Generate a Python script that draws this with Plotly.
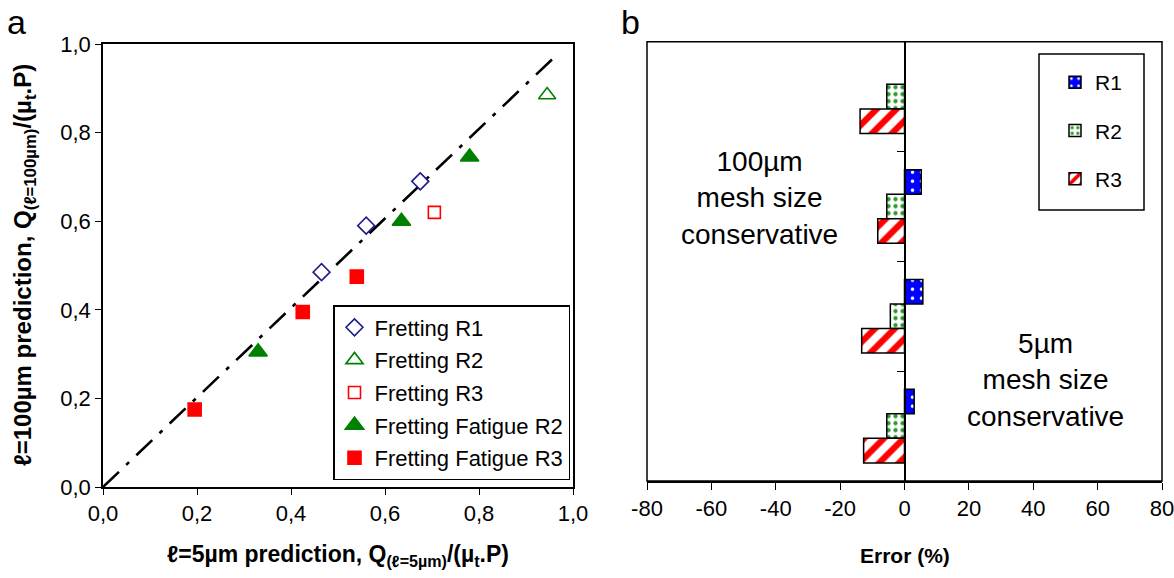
import plotly.graph_objects as go

# ---------------- data: panel a ----------------
fr_r1_x = [0.465, 0.560, 0.675]
fr_r1_y = [0.485, 0.590, 0.690]
fr_r2_x = [0.945]
fr_r2_y = [0.885]
fr_r3_x = [0.705]
fr_r3_y = [0.620]
ff_r2_x = [0.330, 0.635, 0.780]
ff_r2_y = [0.305, 0.600, 0.745]
ff_r3_x = [0.195, 0.425, 0.540]
ff_r3_y = [0.175, 0.395, 0.475]
trend_x = [0.0, 0.97]
trend_y = [0.0, 0.98]
ticks_a = [0.0, 0.2, 0.4, 0.6, 0.8, 1.0]

# ---------------- data: panel b ----------------
cases = [1, 2, 3, 4]
err_r1 = [None, 5.2, 5.7, 3.0]
err_r2 = [-5.5, -5.5, -4.4, -5.5]
err_r3 = [-13.8, -8.3, -13.3, -12.7]
x_ticks_b = [-80, -60, -40, -20, 0, 20, 40, 60, 80]

FONT = "Liberation Sans, Arial, sans-serif"
W, H = 1174, 578


def px(x):
    return x / W


def py(y):
    return 1 - y / H


fig = go.Figure()


def sc(name, x, y, symbol, color, filled, size):
    fig.add_trace(go.Scatter(
        x=x, y=y, mode="markers", name=name, xaxis="x", yaxis="y",
        legendgroup=name,
        marker=dict(symbol=symbol, size=size,
                    color=color if filled else "white",
                    line=dict(color=color, width=1.6)),
    ))


fig.add_trace(go.Scatter(x=trend_x, y=trend_y, mode="lines", showlegend=False,
                         xaxis="x", yaxis="y",
                         line=dict(color="black", width=2.6, dash="22px,10px,4px,10px")))
sc("Fretting R1", fr_r1_x, fr_r1_y, "diamond", "#1c1c8c", False, 13)
sc("Fretting R2", fr_r2_x, fr_r2_y, "triangle-up", "#008000", False, 15)
sc("Fretting R3", fr_r3_x, fr_r3_y, "square", "#ff0000", False, 12)
sc("Fretting Fatigue R2", ff_r2_x, ff_r2_y, "triangle-up", "#008000", True, 16)
sc("Fretting Fatigue R3", ff_r3_x, ff_r3_y, "square", "#ff0000", True, 13)


def bar(name, vals, fg, bg, shape, size, solid):
    fig.add_trace(go.Bar(
        x=vals, y=cases, orientation="h", name=name, xaxis="x2", yaxis="y2",
        legend="legend2", legendgroup=name,
        marker=dict(color=bg, line=dict(color="black", width=1.5),
                    pattern=dict(shape=shape, fgcolor=fg, bgcolor=bg,
                                 size=size, solidity=solid, fillmode="replace")),
    ))


bar("R1", err_r1, "white", "#0000ff", ".", 9, 0.12)
bar("R2", err_r2, "#2e9a2e", "white", ".", 7, 0.3)
bar("R3", err_r3, "#ff0000", "white", "/", 14, 0.45)

# domains
xa = [px(103), px(573)]
ya = [py(487), py(44)]
xb = [px(647), px(1162)]
yb = [py(481), py(41.7)]

tickfont = dict(family=FONT, size=22, color="black")

fig.update_layout(
    width=W, height=H,
    margin=dict(l=0, r=0, t=0, b=0, autoexpand=False),
    paper_bgcolor="white", plot_bgcolor="white",
    separators=", ",
    font=dict(family=FONT, color="black"),
    barmode="group", bargap=0.33, bargroupgap=0,
    xaxis=dict(domain=xa, range=[0, 1], tickvals=ticks_a,
               tickformat=".1f", ticks="outside", ticklen=6, tickcolor="black",
               showline=True, linecolor="black", linewidth=1.5, mirror=True,
               showgrid=False, zeroline=False, tickfont=tickfont, anchor="y",
               automargin=False, ticklabeloverflow="allow"),
    yaxis=dict(domain=ya, range=[0, 1], tickvals=ticks_a,
               tickformat=".1f", ticks="outside", ticklen=6, tickcolor="black",
               showline=True, linecolor="black", linewidth=1.5, mirror=True,
               showgrid=False, zeroline=False, tickfont=tickfont, anchor="x",
               automargin=False, ticklabeloverflow="allow"),
    xaxis2=dict(domain=xb, range=[-80, 80], tickvals=x_ticks_b,
                ticktext=[str(v) for v in x_ticks_b],
                ticks="outside", ticklen=7, tickcolor="black",
                showline=True, linecolor="black", linewidth=1.5,
                showgrid=False, zeroline=False, tickfont=tickfont, anchor="y2",
                automargin=False, ticklabeloverflow="allow"),
    yaxis2=dict(domain=yb, range=[4.5, 0.5], tickvals=[1.5, 2.5, 3.5],
                showticklabels=False, ticks="outside", ticklen=7, tickcolor="black",
                showline=True, linecolor="black", linewidth=1.5,
                showgrid=False, zeroline=False, anchor="free",
                position=px(647 + 0.5 * (1162 - 647)), automargin=False),
    legend=dict(x=px(333), y=py(305), xanchor="left", yanchor="top",
                bgcolor="white", bordercolor="black", borderwidth=1.5,
                font=dict(family=FONT, size=22, color="black"),
                traceorder="grouped", tracegroupgap=1,
                itemwidth=30),
    legend2=dict(x=px(1055), y=py(62), xanchor="left", yanchor="top",
                 bgcolor="rgba(0,0,0,0)", borderwidth=0,
                 font=dict(family=FONT, size=21, color="black"),
                 traceorder="grouped", tracegroupgap=18, itemwidth=30),
    shapes=[
        dict(type="rect", xref="x2 domain", yref="y2 domain", x0=0, x1=1, y0=0, y1=1,
             line=dict(color="black", width=1.5), fillcolor="rgba(0,0,0,0)"),
        dict(type="rect", xref="paper", yref="paper",
             x0=px(1039), x1=px(1144), y0=py(210), y1=py(54),
             line=dict(color="black", width=1.5), fillcolor="rgba(0,0,0,0)"),
    ],
    annotations=[
        dict(text="a", x=px(16), y=py(22), xref="paper", yref="paper",
             showarrow=False, font=dict(family=FONT, size=34), xanchor="center", yanchor="middle"),
        dict(text="b", x=px(630), y=py(22), xref="paper", yref="paper",
             showarrow=False, font=dict(family=FONT, size=34), xanchor="center", yanchor="middle"),
        dict(text="<b>ℓ=5µm prediction, Q<sub>(ℓ=5µm)</sub>/(µ<sub>t</sub>.P)</b>",
             x=px(338), y=py(555), xref="paper", yref="paper", showarrow=False,
             font=dict(family=FONT, size=23), xanchor="center", yanchor="middle"),
        dict(text="<b>ℓ=100µm prediction, Q<sub>(ℓ=100µm)</sub>/(µ<sub>t</sub>.P)</b>",
             x=px(24), y=py(265), xref="paper", yref="paper", showarrow=False,
             textangle=-90,
             font=dict(family=FONT, size=24), xanchor="center", yanchor="middle"),
        dict(text="<b>Error (%)</b>",
             x=px(905), y=py(555), xref="paper", yref="paper", showarrow=False,
             font=dict(family=FONT, size=21), xanchor="center", yanchor="middle"),
        dict(text="100µm<br>mesh size<br>conservative",
             x=px(760), y=py(198), xref="paper", yref="paper", showarrow=False,
             font=dict(family=FONT, size=28), xanchor="center", yanchor="middle"),
        dict(text="5µm<br>mesh size<br>conservative",
             x=px(1045), y=py(380), xref="paper", yref="paper", showarrow=False,
             font=dict(family=FONT, size=28), xanchor="center", yanchor="middle"),
    ],
)

fig.write_html("out.html", config={"displayModeBar": False},
               post_script="document.body.style.margin='0';")
